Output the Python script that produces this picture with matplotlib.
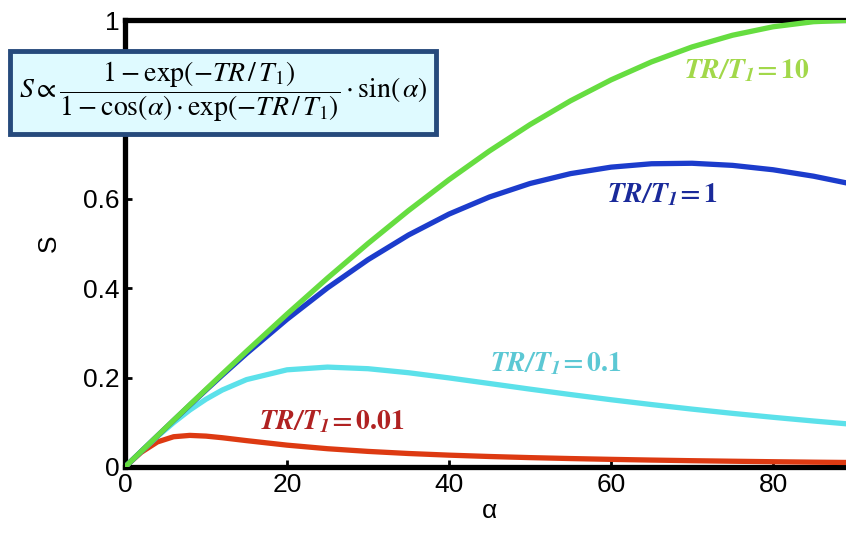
import matplotlib
matplotlib.use("Agg")
import matplotlib.pyplot as plt
from matplotlib.patches import Rectangle

plt.rcParams['font.family'] = ['Liberation Sans', 'DejaVu Sans']
plt.rcParams['mathtext.fontset'] = 'stix'

# flip angle (degrees) and signal values
alpha = [0, 2, 4, 6, 8, 10, 12, 15, 20, 25, 30, 35, 40, 45, 50, 55, 60, 65, 70, 75, 80, 85, 90]
s_10 = [0, 0.0349, 0.0698, 0.1045, 0.1392, 0.1736, 0.2079, 0.2588, 0.3420, 0.4226, 0.5000,
        0.5736, 0.6428, 0.7071, 0.7660, 0.8192, 0.8660, 0.9063, 0.9397, 0.9659, 0.9848, 0.9962, 1.0]
s_1 = [0, 0.0349, 0.0697, 0.1042, 0.1384, 0.1721, 0.2053, 0.2538, 0.3304, 0.4007, 0.4638,
       0.5190, 0.5658, 0.6041, 0.6342, 0.6563, 0.6708, 0.6784, 0.6795, 0.6748, 0.6650, 0.6506, 0.6321]
s_01 = [0, 0.0347, 0.0682, 0.0993, 0.1274, 0.1517, 0.1721, 0.1955, 0.2174, 0.2235, 0.2199,
        0.2109, 0.1993, 0.1868, 0.1742, 0.1621, 0.1505, 0.1397, 0.1295, 0.1200, 0.1112, 0.1029, 0.0952]
s_001 = [0, 0.0329, 0.0561, 0.0677, 0.0707, 0.0691, 0.0655, 0.0590, 0.0489, 0.0409, 0.0349,
         0.0302, 0.0265, 0.0235, 0.0210, 0.0189, 0.0171, 0.0155, 0.0141, 0.0129, 0.0118, 0.0108, 0.0100]

xticks = [0, 20, 40, 60, 80]
yticks = [0, 0.2, 0.4, 0.6, 0.8, 1]
ytick_labels = ['0', '0.2', '0.4', '0.6', '', '1']   # 0.8 is hidden under the formula box

label_values = ['10', '1', '0.1', '0.01']

W, H = 846, 535
fig = plt.figure(figsize=(W / 100, H / 100), dpi=100)
ax = fig.add_axes([125 / W, 68 / H, 729 / W, 447 / H])

ax.plot(alpha, s_001, color='#dd3a12', lw=3.8, solid_capstyle='round', solid_joinstyle='round', zorder=3)
ax.plot(alpha, s_01, color='#5ce1ea', lw=3.8, solid_capstyle='round', solid_joinstyle='round', zorder=3)
ax.plot(alpha, s_1, color='#1c3ccc', lw=3.8, solid_capstyle='round', solid_joinstyle='round', zorder=4)
ax.plot(alpha, s_10, color='#66dd40', lw=3.8, solid_capstyle='round', solid_joinstyle='round', zorder=5)

ax.set_xlim(0, 90)
ax.set_ylim(0, 1)
ax.set_xticks(xticks)
ax.set_xticklabels([str(v) for v in xticks])
ax.set_yticks(yticks)
ax.set_yticklabels(ytick_labels)
ax.tick_params(direction='in', length=5, width=2, labelsize=19, pad=4, colors='black')
for sp in ax.spines.values():
    sp.set_linewidth(3.8)
ax.set_xlabel('α', fontsize=19, labelpad=2)
ax.set_ylabel('S', fontsize=19, labelpad=16)

lab_pos = [(69, 0.885), (59.5, 0.608), (45, 0.23), (16.5, 0.10)]
lab_col = ['#a2d84a', '#1a2a9a', '#5cc8d4', '#b02222']
for v, (x, y), c in zip(label_values, lab_pos, lab_col):
    t = r'$\mathbfit{TR/T}_{\mathbfit{1}}\!\mathbf{=}\mathbf{' + v + '}$'
    ax.text(x, y, t, color=c, fontsize=20, ha='left', va='center', zorder=6)

# equation box
box = Rectangle((10 / W, 1 - 134 / H), 426 / W, 83 / H, transform=fig.transFigure,
                facecolor='#dffaff', edgecolor='#264a7c', lw=3.5, zorder=10)
fig.add_artist(box)
eq = r'$S\propto\dfrac{1-\exp(-TR\,/\,T_1)}{1-\cos(\alpha)\cdot\exp(-TR\,/\,T_1)}\cdot\sin(\,\alpha)$'
fig.text(223 / W, 1 - 92 / H, eq, fontsize=20, ha='center', va='center', zorder=11)

fig.savefig('out.png', dpi=100)
